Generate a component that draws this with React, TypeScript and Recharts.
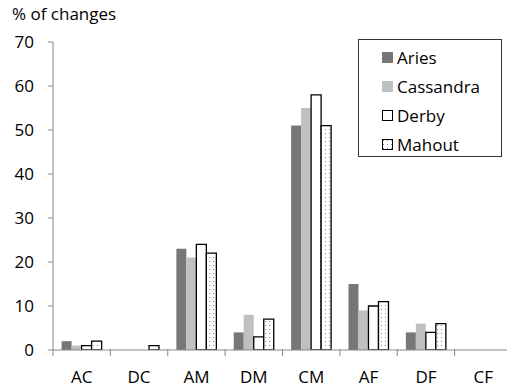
import React from "react";
import { BarChart, Bar, XAxis, YAxis } from "recharts";

const categories = ["AC", "DC", "AM", "DM", "CM", "AF", "DF", "CF"];
const aries = [2, 0, 23, 4, 51, 15, 4, 0];
const cassandra = [1, 0, 21, 8, 55, 9, 6, 0];
const derby = [1, 0, 24, 3, 58, 10, 4, 0];
const mahout = [2, 1, 22, 7, 51, 11, 6, 0];
const yTicks = [0, 10, 20, 30, 40, 50, 60, 70];

const data = categories.map((c, i) => ({
  name: c,
  Aries: aries[i],
  Cassandra: cassandra[i],
  Derby: derby[i],
  Mahout: mahout[i],
}));

const FONT = "'Open Sans', sans-serif";
const AXIS = "#888888";

const series = [
  { key: "Aries", fill: "#777777", stroke: "none" },
  { key: "Cassandra", fill: "#c0c0c0", stroke: "none" },
  { key: "Derby", fill: "#ffffff", stroke: "#000000" },
  { key: "Mahout", fill: "url(#dots)", stroke: "#000000" },
];

function XTick(props: any) {
  const { x, y, payload } = props;
  const half = payload?.offset ?? 28.7;
  return (
    <g>
      <line x1={x - half} x2={x - half} y1={y - 9} y2={y - 2} stroke={AXIS} />
      <text
        x={x}
        y={y + 25}
        textAnchor="middle"
        fontFamily={FONT}
        fontSize={17}
        fill="#000"
      >
        {payload.value}
      </text>
    </g>
  );
}

function LegendBox() {
  return (
    <div
      style={{
        position: "absolute",
        left: 358,
        top: 39,
        border: "1px solid #333",
        width: 144,
        height: 118,
        background: "#fff",
        boxSizing: "border-box",
        padding: "3px 0 0 23px",
        fontFamily: FONT,
        fontSize: 17,
        color: "#000",
      }}
    >
      <svg width={0} height={0} style={{ position: "absolute" }}>
        <defs>
          <pattern id="ldots" width={4} height={4} patternUnits="userSpaceOnUse">
            <rect width={4} height={4} fill="#fff" />
            <rect x={1} y={1} width={1} height={1} fill="#888" />
          </pattern>
        </defs>
      </svg>
      {series.map((s) => (
        <div
          key={s.key}
          style={{ display: "flex", alignItems: "center", height: 29 }}
        >
          <svg width={12} height={12} style={{ marginRight: 3 }}>
            {s.key === "Mahout" ? (
              <rect x={0.5} y={0.5} width={10} height={10} fill="url(#ldots)" stroke="#000" />
            ) : s.key === "Derby" ? (
              <rect x={0.5} y={0.5} width={10} height={10} fill="#fff" stroke="#000" />
            ) : (
              <rect x={0} y={0} width={11} height={11} fill={s.fill} />
            )}
          </svg>
          <span>{s.key}</span>
        </div>
      ))}
    </div>
  );
}

export default function App() {
  return (
    <div
      style={{
        position: "absolute",
        left: 0,
        top: 0,
        width: 507,
        height: 388,
        overflow: "hidden",
        background: "#fff",
      }}
    >
      <div
        style={{
          position: "absolute",
          left: 12,
          top: 2,
          fontFamily: FONT,
          fontSize: 17,
          color: "#000",
        }}
      >
        % of changes
      </div>
      <BarChart
        width={520}
        height={388}
        data={data}
        margin={{ top: 42, right: 8, left: 0, bottom: 8 }}
        barCategoryGap="15%"
        barGap={0}
      >
        <defs>
          <pattern id="dots" width={4} height={4} patternUnits="userSpaceOnUse">
            <rect width={4} height={4} fill="#fff" />
            <rect x={1} y={1} width={1} height={1} fill="#888" />
          </pattern>
        </defs>
        <XAxis
          dataKey="name"
          height={30}
          stroke={AXIS}
          tickLine={false}
          tick={<XTick />}
          interval={0}
        />
        <YAxis
          width={53}
          domain={[0, 70]}
          ticks={yTicks}
          stroke={AXIS}
          tickSize={5}
          tickMargin={14}
          tick={{ fontFamily: FONT, fontSize: 17, fill: "#000" }}
          allowDataOverflow
        />
        {series.map((s) => (
          <Bar
            key={s.key}
            dataKey={s.key}
            fill={s.fill}
            stroke={s.stroke}
            strokeWidth={s.stroke === "none" ? 0 : 1.3}
            isAnimationActive={false}
          />
        ))}
      </BarChart>
      <LegendBox />
    </div>
  );
}
